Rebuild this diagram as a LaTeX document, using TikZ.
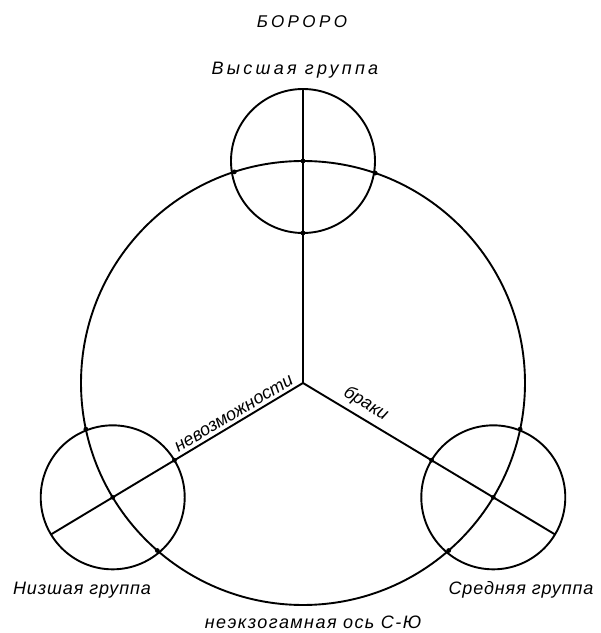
\documentclass[tikz,border=0pt]{standalone}
\usepackage{fontspec}
\setmainfont{Liberation Sans}
\usetikzlibrary{calc}

\begin{document}
\begin{tikzpicture}[x=1pt,y=1pt,line width=1.9pt]
  \tikzstyle{grp}=[draw,circle,minimum size=144pt,inner sep=0pt,outer sep=0pt]
  \tikzstyle{lbl}=[font=\fontsize{18}{18}\selectfont\itshape\addfontfeature{LetterSpace=5},inner sep=0pt,anchor=base]
  \tikzstyle{axislbl}=[font=\fontsize{18}{18}\selectfont\itshape,inner sep=0pt]
  \useasboundingbox (0,0) rectangle (601,633);
  % ring of the village and the three groups
  \coordinate (O) at (303,250);
  \node[draw,circle,minimum size=444pt,inner sep=0pt,outer sep=0pt] (ring) at (O) {};
  \node[grp] (high) at ($(O)+(90:222)$) {};
  \node[grp] (low) at ($(O)+(211:222)$) {};
  \node[grp] (mid) at ($(O)+(-31:222)$) {};
  \draw (O) -- (high.90);
  \draw (O) -- node[axislbl,sloped,above=3pt,pos=0.255,anchor=south]{невозможности} (low.211);
  \draw (O) -- node[axislbl,sloped,above=5pt,pos=0.22,anchor=south]{браки} (mid.-31);
  % knots
  \foreach \g/\a in {high/90,low/211,mid/-31}{
    \pgfmathsetmacro{\aa}{\a+18.7}
    \pgfmathsetmacro{\ab}{\a-18.7}
    \pgfmathsetmacro{\ac}{\a+180}
    \fill (\g) circle (2.4);
    \fill (ring.\aa) circle (2.4);
    \fill (ring.\ab) circle (2.4);
    \fill (\g.\ac) circle (2.4);
  }
  % labels
  \node[lbl,font=\fontsize{17}{17}\selectfont\itshape\addfontfeature{LetterSpace=20}] (title) at (302,605) {БОРОРО};
  \node[lbl,font=\fontsize{18}{18}\selectfont\itshape\addfontfeature{LetterSpace=18}] (highname) at (295,558) {Высшая группа};
  \node[lbl] (lowname) at (82,38) {Низшая группа};
  \node[lbl] (midname) at (521,38) {Средняя группа};
  \node[lbl,font=\fontsize{18}{18}\selectfont\itshape\addfontfeature{LetterSpace=8}] (axis) at (313,5) {неэкзогамная ось С-Ю};
\end{tikzpicture}
\end{document}
